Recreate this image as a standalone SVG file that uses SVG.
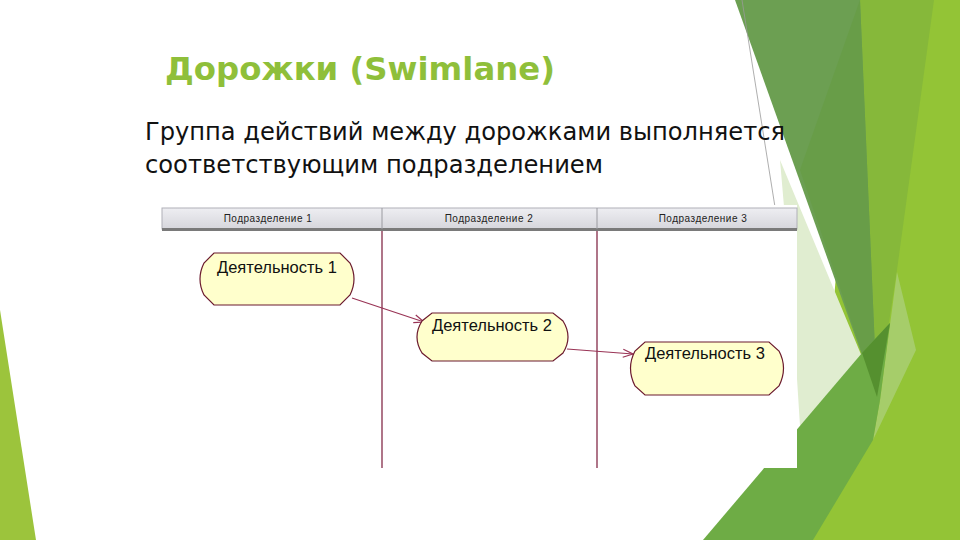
<svg xmlns="http://www.w3.org/2000/svg" width="960" height="540" viewBox="0 0 960 540">
<defs>
<style>
.title{font-family:"DejaVu Sans",sans-serif;font-weight:bold;font-size:32px;fill:#8fbf3a}
.body{font-family:"DejaVu Sans",sans-serif;font-size:24px;fill:#111}
.hdr{font-family:"Liberation Sans",sans-serif;font-size:10px;fill:#222;text-anchor:middle;letter-spacing:0.5px}
.act{fill:#ffffcc;stroke:#6b1a2e;stroke-width:1.2}
.atext{font-family:"Liberation Sans",sans-serif;font-size:16.5px;fill:#111}
.lane{stroke:#7a1a3a;stroke-width:1.2}
.conn{stroke:#993355;stroke-width:1.2;fill:none}
</style>
<marker id="arr" markerWidth="12" markerHeight="10" refX="11" refY="5" orient="auto" markerUnits="userSpaceOnUse">
<path d="M1,1 L11,5 L1,9" fill="none" stroke="#993355" stroke-width="1.2"/>
</marker>
<linearGradient id="hg" x1="0" y1="0" x2="0" y2="1">
<stop offset="0" stop-color="#eeeef2"/>
<stop offset="1" stop-color="#d6d6dc"/>
</linearGradient>
</defs>
<rect width="960" height="540" fill="#ffffff"/>
<g id="background">
<polygon points="860,0 960,0 960,540 813,540" fill="#93c436"/>
<polygon points="860,0 934,0 897,270 877,400" fill="#86b83a"/>
<polygon points="897,272 916,350 873,440 880,400" fill="#a6cd6a"/>
<polygon points="780,160 880,400 800,426 792,300" fill="#e0edd0"/>
<polygon points="735,0 860,0 877,397" fill="#6c9f52"/>
<polygon points="800,170 860,0 877,397" fill="#689d48"/>
<polygon points="703,540 862,353 890,323 880,400 873,440 813,540" fill="#6eac45"/>
<polygon points="862,353 890,323 877,397" fill="#55902f"/>
<polygon points="0,310 0,540 36,540" fill="#9cc43c"/>
<line x1="742" y1="0" x2="775" y2="207" stroke="#999" stroke-width="0.8"/>
</g>
<g id="title"><text class="title" x="165" y="80" textLength="390" lengthAdjust="spacingAndGlyphs">Дорожки (Swimlane)</text></g>
<g id="text">
<text class="body" x="145" y="140" textLength="640" lengthAdjust="spacingAndGlyphs">Группа действий между дорожками выполняется</text>
<text class="body" x="145" y="173" textLength="458" lengthAdjust="spacingAndGlyphs">соответствующим подразделением</text>
</g>
<g id="swimlanes">
<rect x="162" y="205" width="635" height="263" fill="#ffffff"/>
<rect x="162" y="208" width="635" height="21" fill="url(#hg)" stroke="#b0b0b8" stroke-width="1"/>
<rect x="162" y="228" width="635" height="3" fill="#7a7a7a"/>
<line x1="382" y1="208" x2="382" y2="229" stroke="#9a9aa0"/>
<line x1="597" y1="208" x2="597" y2="229" stroke="#9a9aa0"/>
<text class="hdr" x="268" y="222">Подразделение 1</text>
<text class="hdr" x="489" y="222">Подразделение 2</text>
<text class="hdr" x="703" y="222">Подразделение 3</text>
<line class="lane" x1="382" y1="231" x2="382" y2="468"/>
<line class="lane" x1="597" y1="231" x2="597" y2="468"/>
</g>
<g id="connectors">
<path class="conn" d="M352,298 L424,322" marker-end="url(#arr)"/>
<path class="conn" d="M567,349 L633,354" marker-end="url(#arr)"/>
</g>
<g id="act1">
<path class="act" d="M214,253 L340,253 L350,263 Q358,279 350,295 L340,305 L214,305 L204,295 Q196,279 204,263 Z"/>
<text class="atext" x="217" y="273">Деятельность 1</text>
</g>
<g id="act2">
<path class="act" d="M432,313 L553,313 L563,321 Q573,337 563,353 L553,361 L432,361 L422,353 Q412,337 422,321 Z"/>
<text class="atext" x="432" y="331">Деятельность 2</text>
</g>
<g id="act3">
<path class="act" d="M645,342 L769,342 L779,351 Q788,368 779,386 L769,395 L645,395 L635,386 Q626,368 635,351 Z"/>
<text class="atext" x="645" y="359">Деятельность 3</text>
</g>
</svg>
